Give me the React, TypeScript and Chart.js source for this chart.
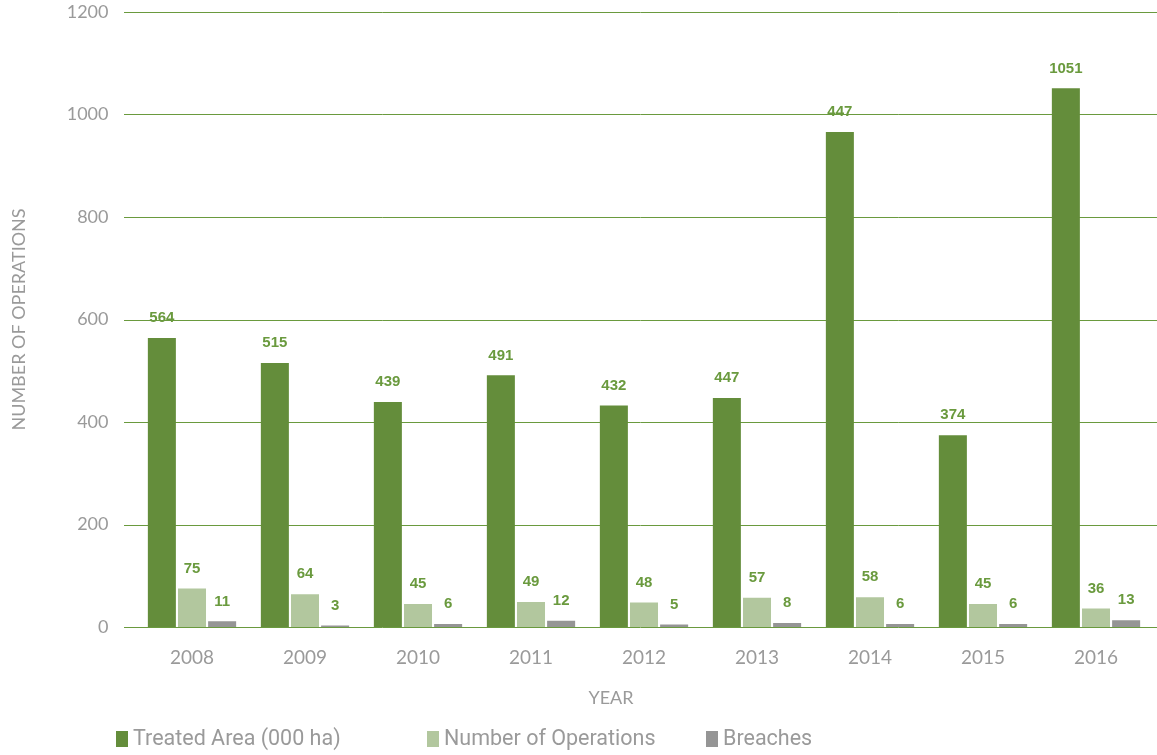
import React, { useEffect, useRef } from "react";
import { Chart, registerables } from "chart.js";

Chart.register(...registerables);

const years = ["2008", "2009", "2010", "2011", "2012", "2013", "2014", "2015", "2016"];
const treatedArea = [564, 515, 439, 491, 432, 447, 966, 374, 1051];
const treatedLabels = ["564", "515", "439", "491", "432", "447", "447", "374", "1051"];
const operations = [75, 64, 45, 49, 48, 57, 58, 45, 36];
const breaches = [11, 3, 6, 12, 5, 8, 6, 6, 13];
const yTicks = [0, 200, 400, 600, 800, 1000, 1200];

const seriesNames = ["Treated Area (000 ha)", "Number of Operations", "Breaches"];
const xTitle = "YEAR";
const yTitle = "NUMBER OF OPERATIONS";
const colors = ["#648d3b", "#b2c79e", "#959595"];
const labelGreen = "#6a9a3e";
const gridGreen = "#6a9a3e";
const grayText = "#9a9a9a";

export default function App() {
  const ref = useRef<HTMLCanvasElement | null>(null);

  useEffect(() => {
    document.body.style.margin = "0";
    const canvas = ref.current;
    if (!canvas) return;

    const gridPlugin = {
      id: "extGrid",
      beforeDatasetsDraw(chart: any) {
        const { ctx, chartArea, scales } = chart;
        const y = scales.y;
        ctx.save();
        ctx.strokeStyle = gridGreen;
        ctx.lineWidth = 1;
        for (const v of yTicks) {
          const py = Math.round(y.getPixelForValue(v)) + 0.5;
          ctx.beginPath();
          ctx.moveTo(chartArea.left - 11.5, py);
          ctx.lineTo(chart.width, py);
          ctx.stroke();
        }
        ctx.restore();
      },
    };

    const labelSets = [treatedLabels, operations.map(String), breaches.map(String)];
    const dataLabelPlugin = {
      id: "dataLabels",
      afterDatasetsDraw(chart: any) {
        const { ctx } = chart;
        ctx.save();
        ctx.fillStyle = labelGreen;
        ctx.font = "bold 15px 'Liberation Sans', Arial, sans-serif";
        ctx.textAlign = "center";
        ctx.textBaseline = "middle";
        chart.data.datasets.forEach((_: any, di: number) => {
          const meta = chart.getDatasetMeta(di);
          meta.data.forEach((bar: any, i: number) => {
            ctx.fillText(labelSets[di][i], bar.x, bar.y - 20);
          });
        });
        ctx.restore();
      },
    };

    const legendX = [116, 427, 706];
    const legendPlugin = {
      id: "customLegend",
      afterDraw(chart: any) {
        const { ctx } = chart;
        ctx.save();
        ctx.textBaseline = "middle";
        ctx.fillStyle = grayText;
        ctx.font = "18px Lato, sans-serif";
        ctx.textAlign = "center";
        ctx.fillText(xTitle, 611, 698);
        ctx.font = "21.5px Roboto, sans-serif";
        ctx.textAlign = "left";
        seriesNames.forEach((name, i) => {
          const x = legendX[i];
          ctx.fillStyle = colors[i];
          ctx.fillRect(x, 731, 12, 16);
          ctx.fillStyle = grayText;
          ctx.fillText(name, x + 17, 740);
        });
        ctx.restore();
      },
    };

    const chart = new Chart(canvas, {
      type: "bar",
      data: {
        labels: years,
        datasets: [
          { label: seriesNames[0], data: treatedArea, backgroundColor: colors[0] },
          { label: seriesNames[1], data: operations, backgroundColor: colors[1] },
          { label: seriesNames[2], data: breaches, backgroundColor: colors[2] },
        ],
      },
      options: {
        animation: false,
        responsive: false,
        maintainAspectRatio: false,
        layout: { padding: { top: 12, right: 4.5, bottom: 38, left: 0 } },
        datasets: { bar: { categoryPercentage: 0.8, barPercentage: 0.93 } },
        plugins: {
          legend: { display: false },
          tooltip: { enabled: false },
        },
        scales: {
          x: {
            grid: { display: false, drawTicks: false },
            border: { display: false },
            ticks: {
              color: grayText,
              font: { family: "Lato, sans-serif", size: 19 },
              padding: 19,
            },
            afterFit(scale: any) {
              scale.height = 90;
              scale.paddingLeft = 0;
              scale.paddingRight = 0;
            },
          },
          y: {
            min: 0,
            max: 1200,
            grid: { display: false, drawTicks: false },
            border: { display: false },
            afterBuildTicks(scale: any) {
              scale.ticks = yTicks.map((v) => ({ value: v }));
            },
            ticks: {
              color: grayText,
              font: { family: "Lato, sans-serif", size: 18 },
              padding: 27,
              callback: (v: any) => String(v),
            },
            title: {
              display: true,
              text: yTitle,
              color: grayText,
              font: { family: "Lato, sans-serif", size: 18 },
              padding: { top: 8, bottom: 0 },
            },
            afterFit(scale: any) {
              scale.width = 135.5;
              scale.paddingTop = 0;
              scale.paddingBottom = 0;
            },
          },
        },
      },
      plugins: [gridPlugin, dataLabelPlugin, legendPlugin],
    });

    return () => chart.destroy();
  }, []);

  return (
    <div style={{ width: 1157, height: 755 }}>
      <canvas ref={ref} width={1157} height={755} style={{ display: "block" }} />
    </div>
  );
}
